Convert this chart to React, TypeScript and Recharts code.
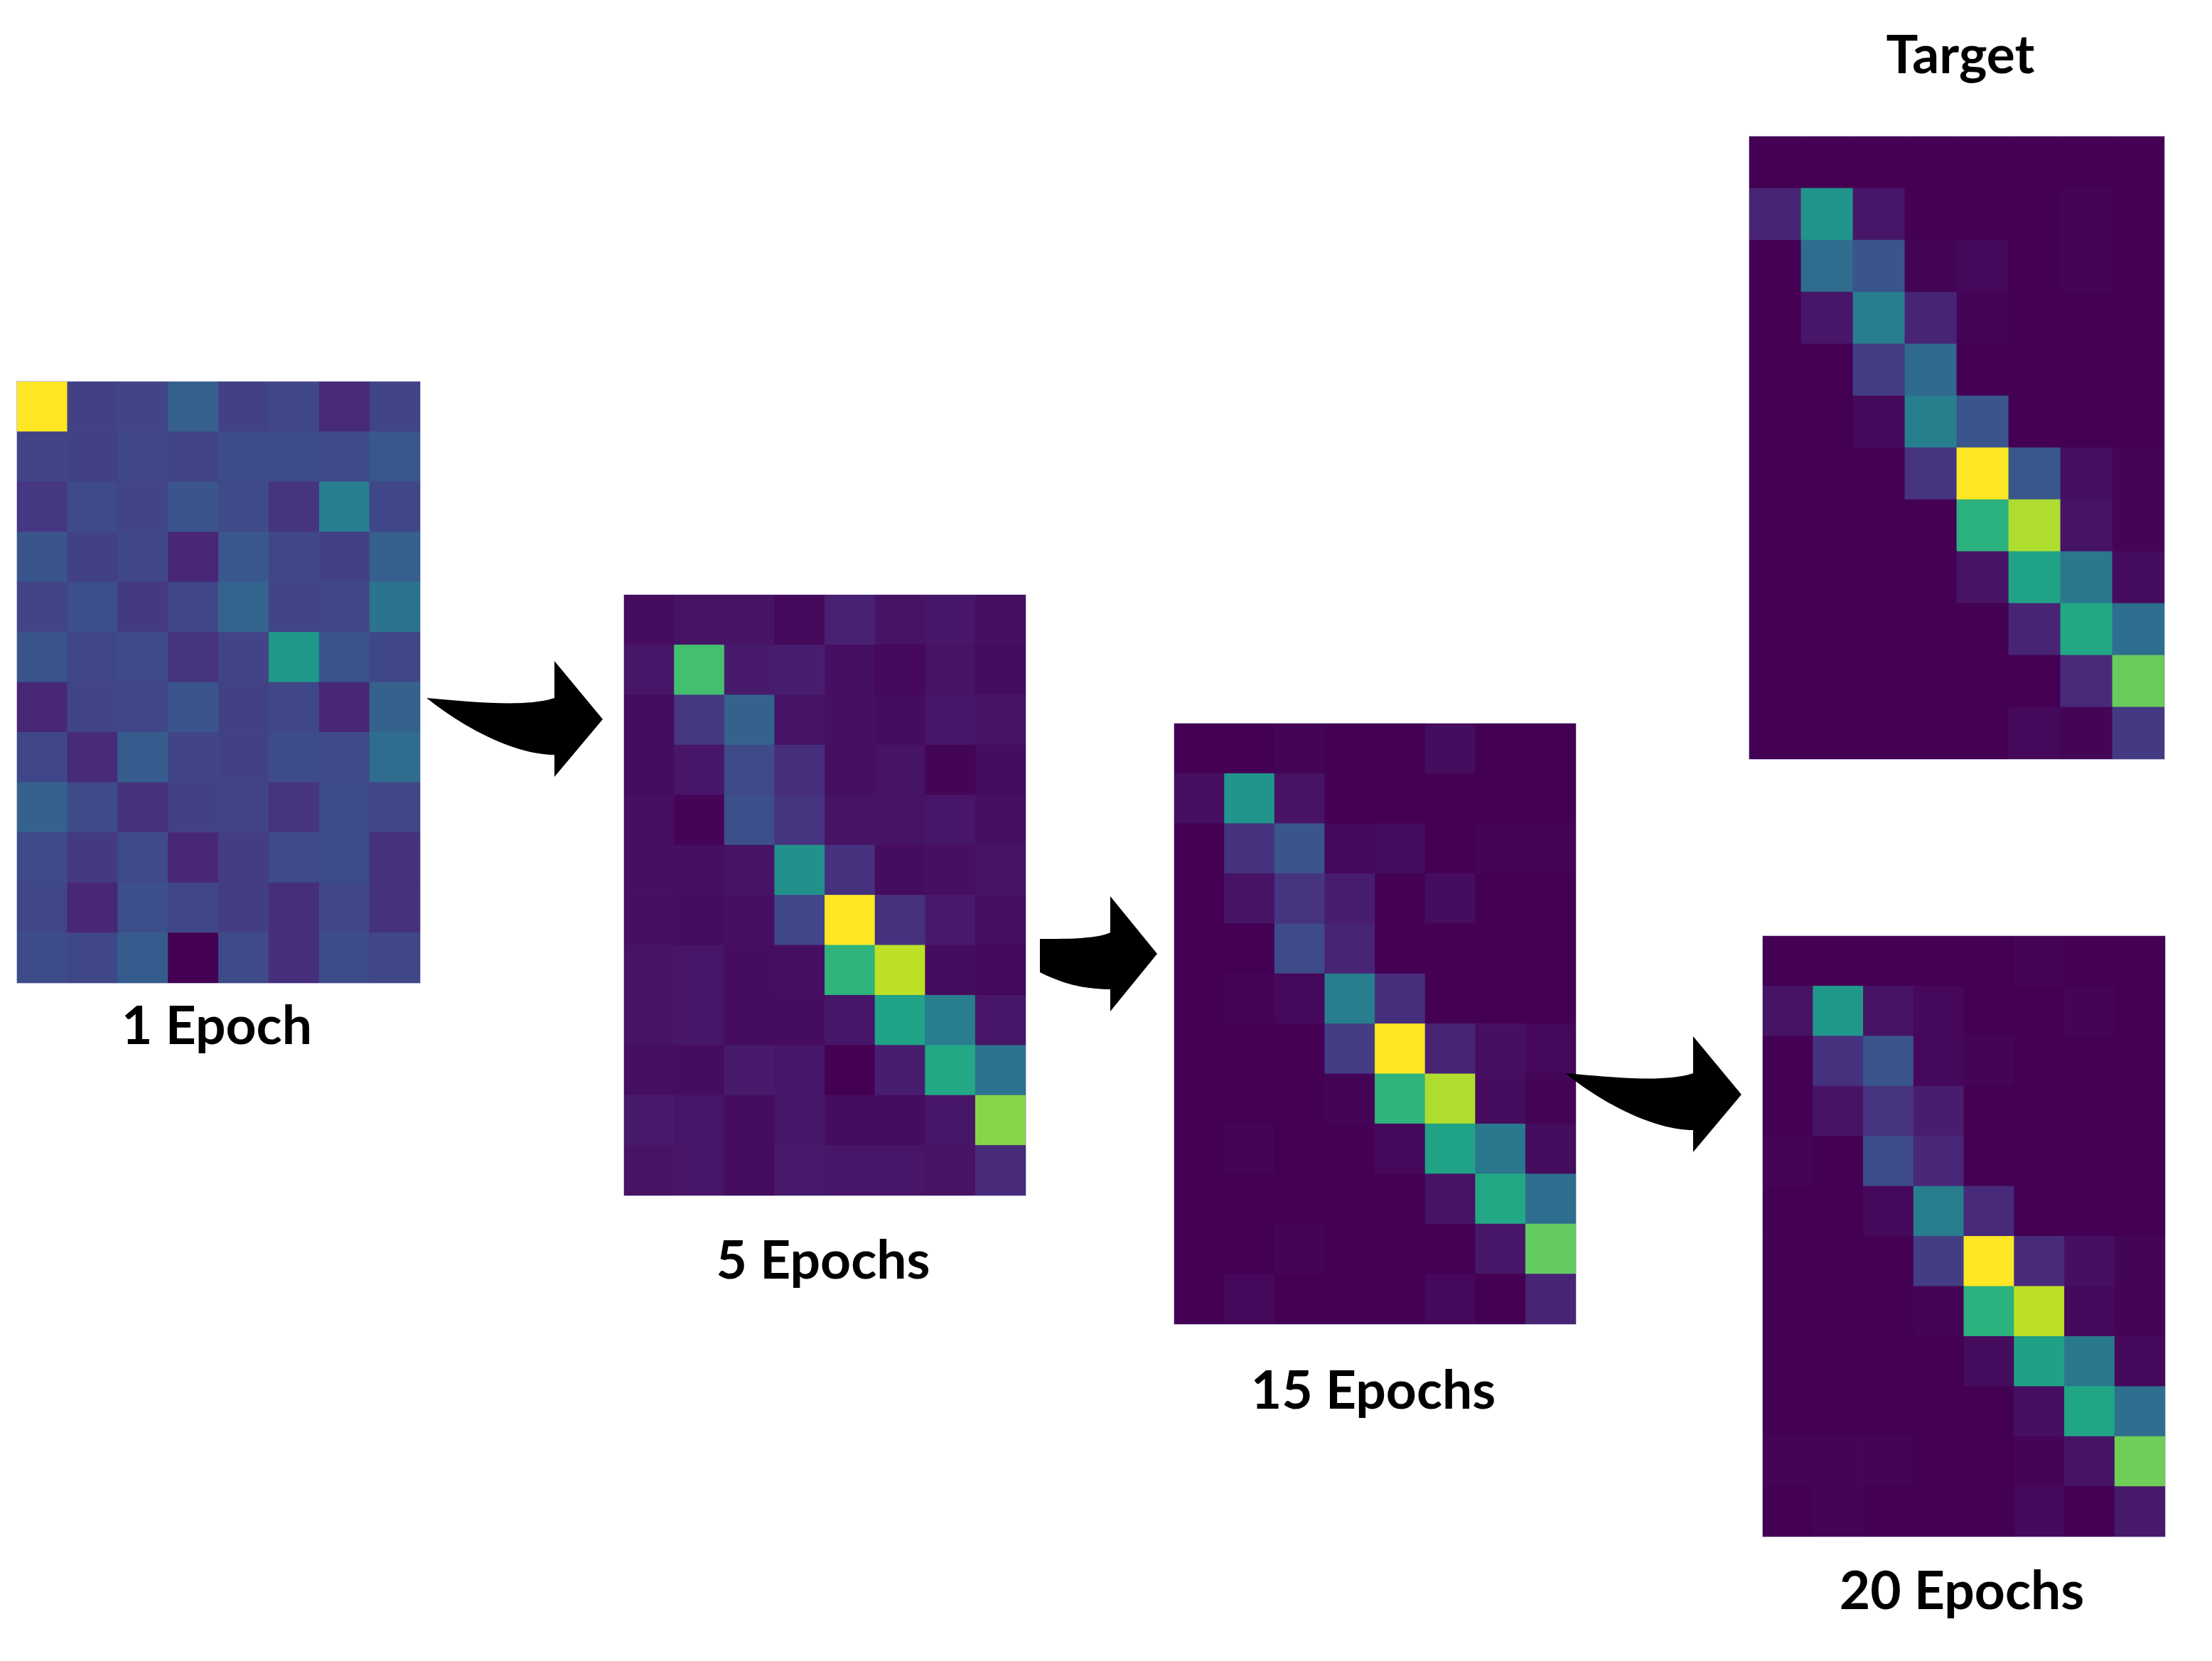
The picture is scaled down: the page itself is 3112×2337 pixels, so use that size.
import React from 'react';
import { ScatterChart, Scatter, XAxis, YAxis } from 'recharts';

// 8 columns x 12 rows, values on the viridis scale (0 = dark purple, 1 = yellow)
const columns = [0, 1, 2, 3, 4, 5, 6, 7];
const rows = [0, 1, 2, 3, 4, 5, 6, 7, 8, 9, 10, 11];

const epoch1 = [
  [1.0, 0.19, 0.2, 0.3, 0.19, 0.21, 0.12, 0.2],
  [0.2, 0.19, 0.21, 0.2, 0.23, 0.23, 0.22, 0.27],
  [0.16, 0.22, 0.2, 0.26, 0.22, 0.15, 0.42, 0.21],
  [0.26, 0.19, 0.21, 0.11, 0.27, 0.21, 0.19, 0.3],
  [0.2, 0.24, 0.17, 0.21, 0.32, 0.2, 0.21, 0.38],
  [0.26, 0.21, 0.22, 0.15, 0.2, 0.53, 0.25, 0.21],
  [0.11, 0.2, 0.21, 0.26, 0.19, 0.21, 0.11, 0.31],
  [0.21, 0.12, 0.29, 0.2, 0.19, 0.23, 0.22, 0.35],
  [0.31, 0.22, 0.14, 0.19, 0.2, 0.15, 0.23, 0.21],
  [0.22, 0.17, 0.22, 0.11, 0.18, 0.22, 0.23, 0.14],
  [0.21, 0.11, 0.24, 0.21, 0.18, 0.13, 0.21, 0.14],
  [0.23, 0.21, 0.29, 0.0, 0.22, 0.13, 0.23, 0.21],
];

const epoch5 = [
  [0.03, 0.05, 0.05, 0.02, 0.09, 0.05, 0.06, 0.04],
  [0.06, 0.7, 0.07, 0.08, 0.04, 0.02, 0.05, 0.03],
  [0.03, 0.16, 0.31, 0.05, 0.04, 0.03, 0.06, 0.05],
  [0.03, 0.06, 0.22, 0.13, 0.04, 0.05, 0.01, 0.03],
  [0.04, 0.01, 0.24, 0.15, 0.05, 0.05, 0.06, 0.04],
  [0.04, 0.04, 0.05, 0.5, 0.14, 0.03, 0.04, 0.05],
  [0.04, 0.03, 0.04, 0.21, 1.0, 0.14, 0.07, 0.04],
  [0.05, 0.06, 0.03, 0.04, 0.65, 0.9, 0.03, 0.02],
  [0.05, 0.06, 0.03, 0.03, 0.06, 0.58, 0.42, 0.06],
  [0.04, 0.03, 0.07, 0.06, 0.0, 0.08, 0.6, 0.38],
  [0.07, 0.06, 0.03, 0.06, 0.03, 0.03, 0.06, 0.82],
  [0.05, 0.06, 0.03, 0.07, 0.06, 0.06, 0.05, 0.12],
];

const epoch15 = [
  [0.0, 0.0, 0.01, 0.0, 0.0, 0.03, 0.0, 0.0],
  [0.04, 0.52, 0.05, 0.0, 0.0, 0.0, 0.0, 0.0],
  [0.0, 0.14, 0.26, 0.02, 0.03, 0.0, 0.01, 0.01],
  [0.0, 0.05, 0.15, 0.08, 0.0, 0.03, 0.0, 0.0],
  [0.0, 0.0, 0.22, 0.1, 0.0, 0.0, 0.0, 0.0],
  [0.0, 0.01, 0.02, 0.42, 0.13, 0.0, 0.0, 0.0],
  [0.0, 0.0, 0.0, 0.18, 1.0, 0.1, 0.04, 0.02],
  [0.0, 0.0, 0.0, 0.01, 0.65, 0.88, 0.03, 0.01],
  [0.0, 0.01, 0.0, 0.0, 0.02, 0.58, 0.4, 0.03],
  [0.0, 0.0, 0.0, 0.0, 0.0, 0.05, 0.6, 0.36],
  [0.0, 0.0, 0.01, 0.0, 0.0, 0.0, 0.06, 0.76],
  [0.0, 0.02, 0.0, 0.0, 0.0, 0.02, 0.0, 0.1],
];

const epoch20 = [
  [0.0, 0.0, 0.0, 0.0, 0.0, 0.01, 0.0, 0.0],
  [0.05, 0.53, 0.05, 0.02, 0.0, 0.0, 0.01, 0.0],
  [0.0, 0.14, 0.26, 0.02, 0.01, 0.0, 0.0, 0.0],
  [0.0, 0.05, 0.15, 0.08, 0.0, 0.0, 0.0, 0.0],
  [0.01, 0.0, 0.23, 0.11, 0.0, 0.0, 0.0, 0.0],
  [0.0, 0.0, 0.02, 0.42, 0.12, 0.0, 0.0, 0.0],
  [0.0, 0.0, 0.0, 0.18, 1.0, 0.12, 0.04, 0.01],
  [0.0, 0.0, 0.0, 0.01, 0.64, 0.9, 0.02, 0.01],
  [0.0, 0.0, 0.0, 0.0, 0.03, 0.57, 0.4, 0.02],
  [0.0, 0.0, 0.0, 0.0, 0.0, 0.04, 0.59, 0.36],
  [0.01, 0.01, 0.01, 0.0, 0.0, 0.01, 0.05, 0.78],
  [0.0, 0.01, 0.0, 0.0, 0.0, 0.02, 0.0, 0.07],
];

const target = [
  [0.0, 0.0, 0.0, 0.0, 0.0, 0.0, 0.0, 0.0],
  [0.1, 0.52, 0.06, 0.0, 0.0, 0.0, 0.01, 0.0],
  [0.0, 0.35, 0.26, 0.01, 0.02, 0.0, 0.01, 0.0],
  [0.0, 0.06, 0.42, 0.1, 0.01, 0.0, 0.0, 0.0],
  [0.0, 0.0, 0.18, 0.34, 0.0, 0.0, 0.0, 0.0],
  [0.0, 0.0, 0.02, 0.43, 0.26, 0.0, 0.0, 0.0],
  [0.0, 0.0, 0.0, 0.15, 1.0, 0.27, 0.04, 0.01],
  [0.0, 0.0, 0.0, 0.0, 0.64, 0.88, 0.05, 0.01],
  [0.0, 0.0, 0.0, 0.0, 0.05, 0.58, 0.4, 0.03],
  [0.0, 0.0, 0.0, 0.0, 0.0, 0.1, 0.6, 0.36],
  [0.0, 0.0, 0.0, 0.0, 0.0, 0.0, 0.12, 0.77],
  [0.0, 0.0, 0.0, 0.0, 0.0, 0.02, 0.01, 0.17],
];

const labels = ['1 Epoch', '5 Epochs', '15 Epochs', 'Target', '20 Epochs'];

const VIRIDIS = [
  '#440154', '#471365', '#482475', '#463480', '#414487', '#3b528b', '#355f8d',
  '#2f6c8e', '#2a788e', '#25848e', '#21918c', '#1e9c89', '#22a884', '#2fb47c',
  '#44bf70', '#5ec962', '#7ad151', '#9bd93c', '#bddf26', '#dfe318', '#fde725',
];

const hex = (h: string) => [1, 3, 5].map((i) => parseInt(h.slice(i, i + 2), 16));

function viridis(v: number) {
  const t = Math.max(0, Math.min(1, v)) * (VIRIDIS.length - 1);
  const i = Math.min(Math.floor(t), VIRIDIS.length - 2);
  const f = t - i;
  const a = hex(VIRIDIS[i]);
  const b = hex(VIRIDIS[i + 1]);
  const c = a.map((x, k) => Math.round(x + (b[k] - x) * f));
  return `rgb(${c[0]},${c[1]},${c[2]})`;
}

const toPoints = (grid: number[][]) =>
  rows.flatMap((r) => columns.map((c) => ({ x: c + 0.5, y: r + 0.5, v: grid[r][c] })));

const FONT = 'Lato, "Open Sans", sans-serif';

function Heatmap({ grid, left, top, width, height }: { grid: number[][]; left: number; top: number; width: number; height: number }) {
  const cw = width / columns.length;
  const ch = height / rows.length;
  const Cell = (props: any) => {
    const { cx, cy, payload } = props;
    return (
      <rect
        x={cx - cw / 2 - 0.4}
        y={cy - ch / 2 - 0.4}
        width={cw + 0.8}
        height={ch + 0.8}
        fill={viridis(payload.v)}
        stroke="none"
      />
    );
  };
  return (
    <div style={{ position: 'absolute', left, top, width, height, outline: '1.5px solid #c4c4dc' }}>
      <ScatterChart width={width} height={height} margin={{ top: 0, right: 0, bottom: 0, left: 0 }}>
        <XAxis type="number" dataKey="x" domain={[0, columns.length]} hide />
        <YAxis type="number" dataKey="y" domain={[0, rows.length]} reversed hide />
        <Scatter data={toPoints(grid)} shape={Cell} isAnimationActive={false} />
      </ScatterChart>
    </div>
  );
}

const BIG_ARROW = 'M0,52 C60,57 140,66 180,52 L180,0 L248,82 L180,163 L180,132 C130,132 60,100 0,52 Z';
const SMALL_ARROW = 'M0,60 C40,60 80,60 99,51 L99,0 L165,81 L99,162 L99,131 C60,131 30,122 0,107 Z';

export default function App() {
  const panels = [
    { grid: epoch1, left: 24, top: 537, width: 567, height: 846, label: labels[0], lx: 305, ly: 1469 },
    { grid: epoch5, left: 878, top: 837, width: 565, height: 845, label: labels[1], lx: 1158, ly: 1799 },
    { grid: epoch15, left: 1652, top: 1018, width: 565, height: 845, label: labels[2], lx: 1932, ly: 1982 },
    { grid: target, left: 2461, top: 192, width: 584, height: 876, label: labels[3], lx: 2758, ly: 103 },
    { grid: epoch20, left: 2480, top: 1317, width: 566, height: 845, label: labels[4], lx: 2760, ly: 2264 },
  ];
  return (
    <div style={{ position: 'absolute', left: 0, top: 0, width: 3112, height: 2337, background: '#fff', overflow: 'hidden' }}>
      {panels.map((p) => (
        <Heatmap key={p.label} grid={p.grid} left={p.left} top={p.top} width={p.width} height={p.height} />
      ))}
      <svg width={3112} height={2337} style={{ position: 'absolute', left: 0, top: 0, pointerEvents: 'none' }}>
        <path d={BIG_ARROW} transform="translate(600,930)" fill="#000" />
        <path d={SMALL_ARROW} transform="translate(1463,1261)" fill="#000" />
        <path d={BIG_ARROW} transform="translate(2202,1458)" fill="#000" />
        {panels.map((p) => (
          <text key={p.label} x={p.lx} y={p.ly} textAnchor="middle" fontFamily={FONT} fontWeight={700} fontSize={75} fill="#000">
            {p.label}
          </text>
        ))}
      </svg>
    </div>
  );
}
